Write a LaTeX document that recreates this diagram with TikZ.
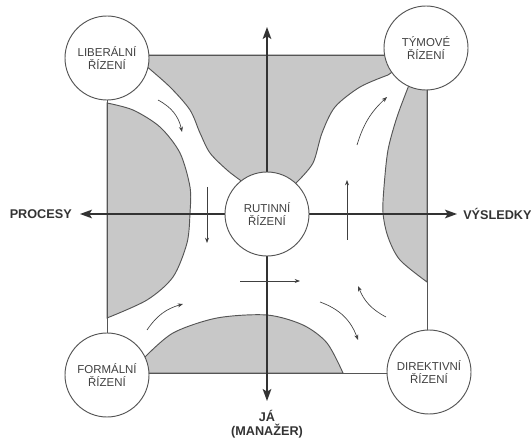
\documentclass[tikz,border=0pt]{standalone}
\usepackage{fontspec}
\setmainfont{Liberation Sans}
\usepackage{tikz}
\usetikzlibrary{positioning,arrows.meta}
\definecolor{regiongray}{RGB}{200,200,200}
\definecolor{linegray}{RGB}{85,85,85}

\begin{document}
\begin{tikzpicture}[x=0.75pt, y=-0.75pt,
  region/.style={fill=regiongray, draw=linegray, line width=0.7pt},
  phase/.style={circle, draw=linegray, line width=0.7pt, fill=white, text=black!75,
    minimum size=63pt, inner sep=0pt, align=center, font=\fontsize{8.6}{10}\selectfont},
  axislabel/.style={font=\fontsize{9.5}{10.5}\selectfont\bfseries, text=black!80, inner sep=0pt, align=center},
  axis/.style={line width=1pt, draw=black!80, -{Stealth[length=9pt,width=6.5pt,inset=2pt]}},
  flow/.style={line width=0.5pt, draw=black!75, -{Stealth[length=4pt,width=3pt]}}]

  \useasboundingbox (0,0) rectangle (531,441);

  % shaded areas
  \filldraw[region] (107,55) -- (426,55) -- (395,70)
    -- plot[smooth] coordinates {(388,75) (360,87) (335,107) (322,133) (313,163) (297,182)}
    -- (267,214)
    -- plot[smooth] coordinates {(240,180) (227,170) (210,153) (200,133) (190,110) (170,87) (145,65)} -- cycle;
  \filldraw[region] plot[smooth] coordinates {(107,103) (133,110) (160,127) (180,153) (190,187)
    (190,213) (187,243) (173,277) (147,300) (107,318)} -- cycle;
  \filldraw[region] (130,373) -- plot[smooth] coordinates {(144,358) (173,333) (217,318) (267,315)
    (303,325) (327,343) (343,373)} -- cycle;
  \filldraw[region] (427,85) -- plot[smooth] coordinates {(409,85) (397,117) (388,150) (384,187)
    (383,213) (388,237) (400,260) (427,282)} -- cycle;
  \draw[linegray, line width=0.7pt] (107,55) rectangle (427,373);

  % axes
  \coordinate (c) at (267,214);
  \coordinate (tipN) at (267,27);
  \coordinate (tipS) at (267,401);
  \coordinate (tipW) at (80,214);
  \coordinate (tipE) at (457,214);
  \node[axislabel, left=6pt of tipW] (procesy) {PROCESY};
  \node[axislabel, right=4.5pt of tipE] (vysledky) {VÝSLEDKY};
  \node[axislabel, below=7pt of tipS] (ja) {JÁ\\(MANAŽER)};
  \foreach \t in {tipN,tipS,tipW,tipE}
    \draw[axis] (c) -- (\t);

  % styles of management
  \foreach \n/\x/\y/\t in {liberal/107/58/LIBERÁLNÍ, tymove/426/48/TÝMOVÉ, rutinni/267/214/RUTINNÍ,
      formal/107/375/FORMÁLNÍ, direktivni/429/372/DIREKTIVNÍ}
    \node[phase] (\n) at (\x,\y) {\t\\ŘÍZENÍ};

  % flow arrows
  \draw[flow] (158,100) to[bend left=25] (182,132);
  \draw[flow] (207,187) -- (207,243);
  \draw[flow] (147,330) to[bend left=20] (183,304);
  \draw[flow] (240,281) -- (300,281);
  \draw[flow] (320,302) to[bend left=25] (358,340);
  \draw[flow] (386,317) to[bend left=20] (358,286);
  \draw[flow] (347,240) -- (347,180);
  \draw[flow] (357,145) to[bend left=15] (387,97);
\end{tikzpicture}
\end{document}
